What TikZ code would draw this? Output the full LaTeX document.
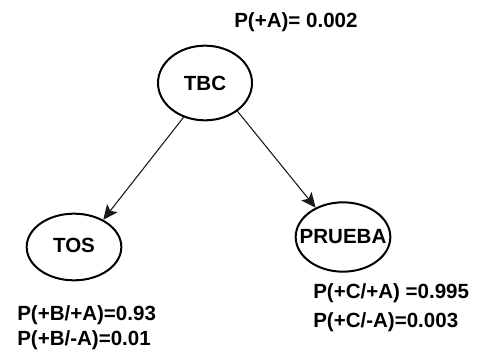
\documentclass[tikz,border=0pt]{standalone}
\usepackage{fontspec}
\setmainfont{Liberation Sans}
\usepackage{tikz}
\usetikzlibrary{arrows.meta, positioning, shapes.geometric}

\begin{document}
\begin{tikzpicture}[
    x=0.75pt, y=-0.75pt,
    var/.style={draw, ellipse, line width=1.5pt, inner sep=0pt, font=\fontsize{15.4}{18}\selectfont\bfseries},
    prob/.style={anchor=base west, inner sep=0pt, font=\fontsize{15.4}{18}\selectfont\bfseries},
    arr/.style={-{Stealth[length=11pt, width=10pt, inset=2.5pt]}, line width=0.8pt, black!90},
]
\useasboundingbox (0,0) rectangle (477,353);

% Variables
\node[var, minimum width=70.5pt, minimum height=56pt] (tbc) at (205,83) {\makebox[0pt]{TBC}};
\node[var, minimum width=71pt, minimum height=50pt] (tos) at (74,247) {\makebox[0pt]{\raisebox{3pt}{TOS}}};
\node[var, minimum width=71pt, minimum height=52pt] (prueba) at (343,237) {\makebox[0pt]{\raisebox{-2pt}{PRUEBA}}};

% Dependencies
\draw[arr] (tbc.238) -- (tos.43);
\draw[arr] (tbc.319) -- (prueba.133);

% Probability tables
\node[prob] (pa) at (234,28) {P(+A)= 0.002};
\node[prob] (pb1) at (17,320) {P(+B/+A)=0.93};
\node[prob] (pb2) at (17,345) {P(+B/-A)=0.01};
\node[prob] (pc1) at (313,298) {P(+C/+A) =0.995};
\node[prob] (pc2) at (313,327) {P(+C/-A)=0.003};

\end{tikzpicture}
\end{document}
